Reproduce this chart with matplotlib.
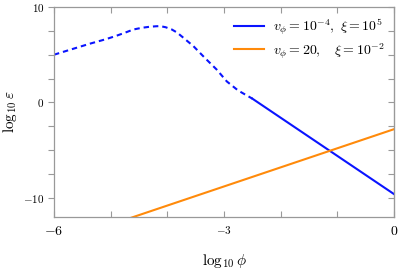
import matplotlib
matplotlib.use("Agg")
import matplotlib.pyplot as plt

plt.rcParams['mathtext.fontset'] = 'cm'
plt.rcParams['font.family'] = 'serif'
plt.rcParams['font.serif'] = ['DejaVu Serif']

# curve 1 (v_phi = 1e-4, xi = 1e5): dashed part then solid part
x_dash = [-6.0, -5.7, -5.37, -5.1, -4.92, -4.75, -4.6, -4.45, -4.31, -4.2, -4.13,
          -4.03, -3.92, -3.83, -3.75, -3.54, -3.34, -3.13, -2.95, -2.75, -2.5]
y_dash = [5.0, 5.55, 6.15, 6.6, 6.94, 7.3, 7.64, 7.82, 7.93, 7.98, 8.0,
          7.88, 7.64, 7.33, 6.94, 5.9, 4.68, 3.45, 2.2, 1.25, 0.4]
x_solid = [-2.5, 0.0]
y_solid = [0.4, -9.6]

# curve 2 (v_phi = 20, xi = 1e-2)
x_orange = [-6.0, 0.0]
y_orange = [-14.8, -2.8]

xticks = [-6, -5, -4, -3, -2, -1, 0]
xlabels = ['$-6$', '', '', '$-3$', '', '', '$0$']
yticks = [-10, -7.5, -5, -2.5, 0, 2.5, 5, 7.5, 10]
ylabels = ['$-10$', '', '', '', '$0$', '', '', '', '$10$']

blue = '#0a14ff'
orange = '#ff8a0a'

fig = plt.figure(figsize=(3.99, 2.73), dpi=100)
ax = fig.add_axes([0.1353, 0.2051, 0.8522, 0.7693])

ax.plot(x_dash, y_dash, color=blue, lw=1.5, dashes=(2.6, 1.9))
ax.plot(x_solid, y_solid, color=blue, lw=1.5, label=r'$v_\phi=10^{-4},\ \xi=10^5$')
ax.plot(x_orange, y_orange, color=orange, lw=1.5, label=r'$v_\phi=20,\quad\xi=10^{-2}$')

ax.set_xlim(-6, 0)
ax.set_ylim(-12, 10)

ax.set_xticks(xticks)
ax.set_xticklabels(xlabels)
ax.set_yticks(yticks)
ax.set_yticklabels(ylabels, fontsize=8)
for lab in ax.get_xticklabels():
    lab.set_fontsize(8 if lab.get_text() == '$-3$' else 10)

gray = '#999999'
for s in ax.spines.values():
    s.set_color(gray)
    s.set_linewidth(0.9)
ax.tick_params(axis='x', direction='in', top=True, length=4, color=gray, pad=5)
ax.tick_params(axis='y', direction='out', length=4, color=gray, pad=3)
ax.tick_params(axis='y', which='major', right=False)
# right side ticks inward
sec = ax.secondary_yaxis('right')
sec.set_yticks(yticks)
sec.set_yticklabels([])
sec.tick_params(direction='in', length=4, color=gray)
sec.spines['right'].set_color(gray)

ax.set_xlabel(r'$\log_{10}\phi$', fontsize=11, labelpad=10)
ax.set_ylabel(r'$\log_{10}\varepsilon$', fontsize=11, labelpad=3)

ax.legend(loc='upper right', frameon=False, fontsize=10, handlelength=2.2,
          borderaxespad=0.3, labelspacing=0.25, handletextpad=0.6)

fig.savefig('out.png', dpi=100)
